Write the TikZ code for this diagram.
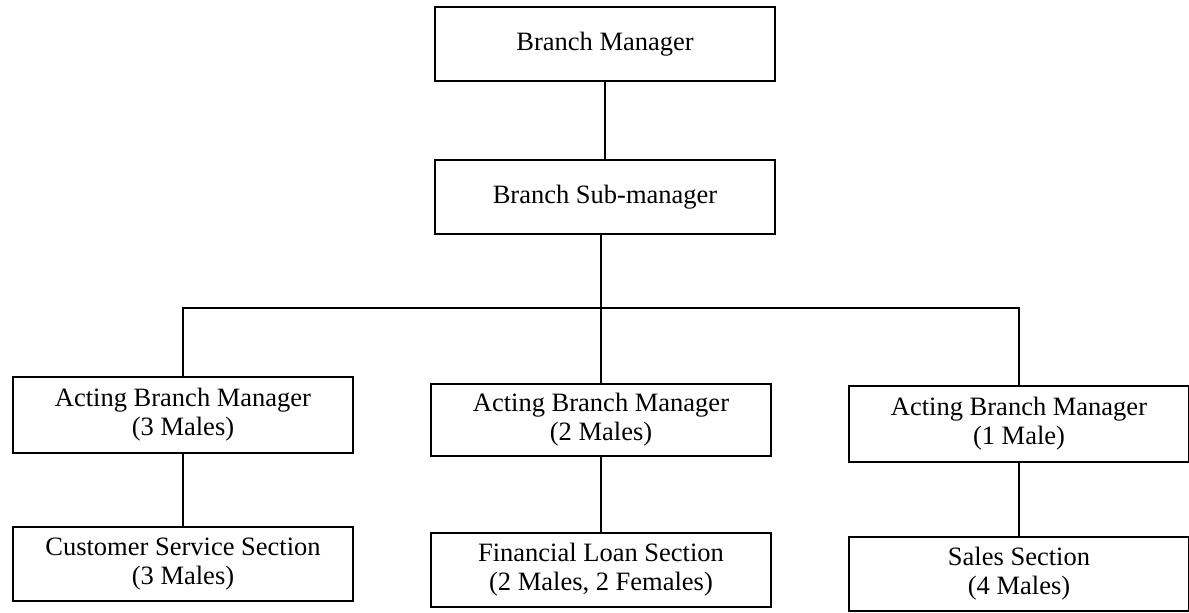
\documentclass[tikz,border=0pt]{standalone}
\usepackage{fontspec}
\setmainfont{Liberation Serif}
\usetikzlibrary{positioning}

\begin{document}
\begin{tikzpicture}[x=0.5bp, y=-0.5bp,
	box/.style={draw, line width=1.1pt, minimum width=170bp, minimum height=37bp,
		inner sep=0pt, align=center, font=\fontsize{13.3}{14.5}\selectfont},
	link/.style={line width=1pt}]

			\useasboundingbox (0,0) rectangle (1189,612);

			% Top of the chart
			\node[box] (bm) at (605,44) {Branch Manager};
			\node[box] (sub) at (605,197) {Branch Sub-manager};

			% Acting managers
			\node[box, minimum height=38bp] (act1) at (183,415) {Acting Branch Manager\\(3 Males)};
			\node[box, minimum height=36bp] (act2) at (601,420) {Acting Branch Manager\\(2 Males)};
			\node[box, minimum height=38bp] (act3) at (1019,424) {Acting Branch Manager\\(1 Male)};

			% Sections
			\node[box] (sec1) at (183,564) {Customer Service Section\\(3 Males)};
			\node[box] (sec2) at (601,570) {Financial Loan Section\\(2 Males, 2 Females)};
			\node[box] (sec3) at (1019,574) {Sales Section\\(4 Males)};

			% Connectors
			\coordinate (split) at (601,308);
			\draw[link] (bm) -- (sub);
			\draw[link] (sub.south -| split) -- (split);
			\draw[link] (act1.north) |- (split) -| (act3.north);
			\draw[link] (split) -- (act2.north);
			\draw[link] (act1) -- (sec1);
			\draw[link] (act2) -- (sec2);
			\draw[link] (act3) -- (sec3);

		\end{tikzpicture}
\end{document}
